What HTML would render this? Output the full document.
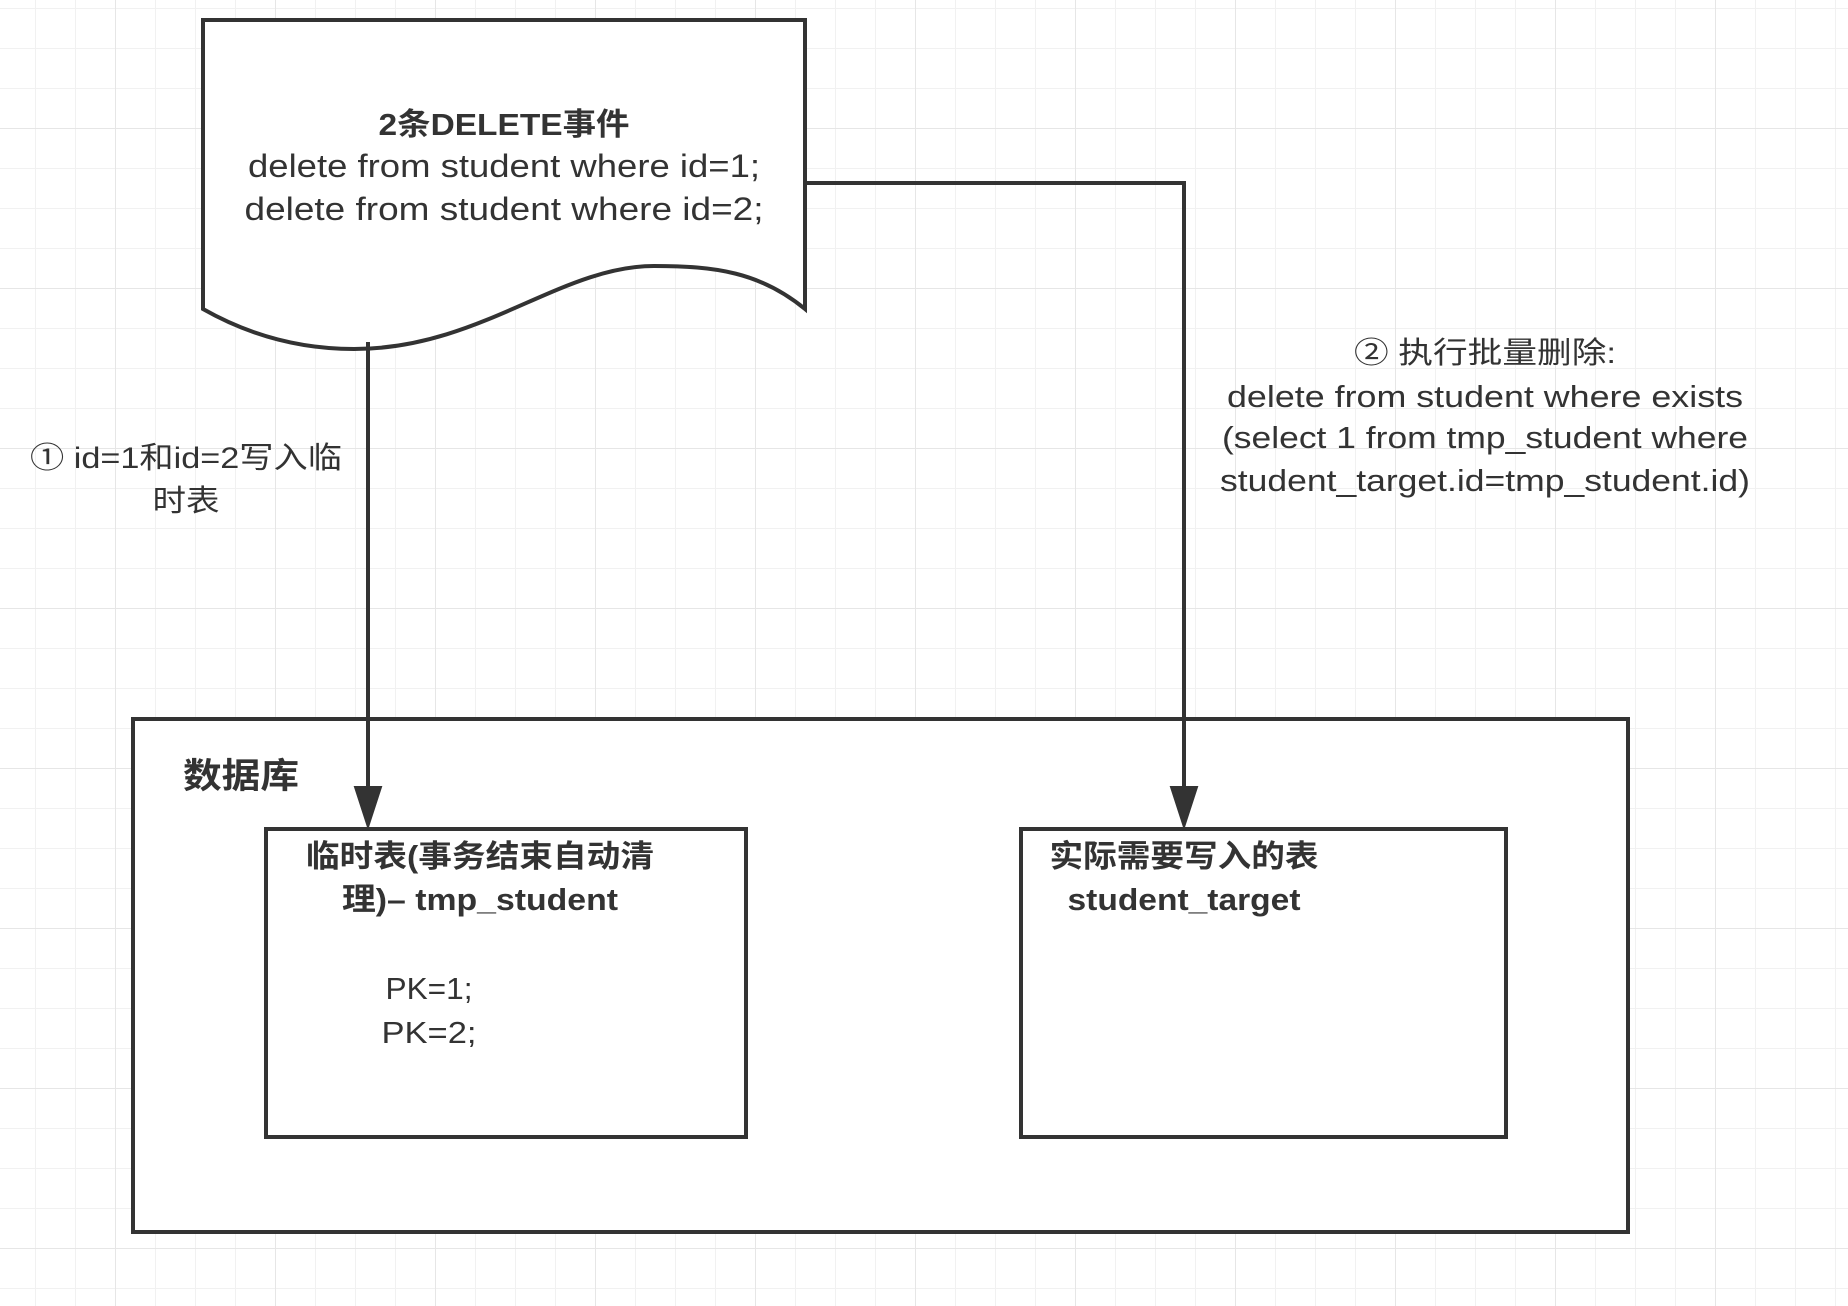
<!DOCTYPE html>
<html><head><meta charset="utf-8"><style>
html,body{margin:0;padding:0;background:#fff}
svg{display:block}
text{font-family:"Liberation Sans","Noto Sans CJK SC",sans-serif;fill:#333}
</style></head><body>
<svg width="1848" height="1306" viewBox="0 0 1848 1306" xmlns="http://www.w3.org/2000/svg">
<defs>
<pattern id="g" x="35" y="8" width="40" height="40" patternUnits="userSpaceOnUse">
<path d="M0 0H40M0 0V40" stroke="#f1f1f1" stroke-width="2" fill="none"/>
</pattern>
<pattern id="G" x="115" y="128" width="160" height="160" patternUnits="userSpaceOnUse">
<path d="M0 0H160M0 0V160" stroke="#e6e6e6" stroke-width="2" fill="none"/>
</pattern>
</defs>
<rect width="1848" height="1306" fill="#fff"/>
<rect width="1848" height="1306" fill="url(#g)"/>
<rect width="1848" height="1306" fill="url(#G)"/>

<path d="M203 20H805V309C760 272 715 266 654 266C560 266 480 349 354 349C290 349 240 330 203 309Z" fill="#fff" stroke="#333" stroke-width="4"/>
<text x="504" y="135" font-size="31" text-anchor="middle" font-weight="bold" textLength="251" lengthAdjust="spacingAndGlyphs">2条DELETE事件</text>
<text x="504" y="177" font-size="32" text-anchor="middle" textLength="512" lengthAdjust="spacingAndGlyphs">delete from student where id=1;</text>
<text x="504" y="220" font-size="32" text-anchor="middle" textLength="519" lengthAdjust="spacingAndGlyphs">delete from student where id=2;</text>

<rect x="133" y="719" width="1495" height="513" fill="#fff" stroke="#333" stroke-width="4"/>
<text x="183" y="788" font-size="35" font-weight="bold" textLength="116" lengthAdjust="spacingAndGlyphs">数据库</text>

<rect x="266" y="829" width="480" height="308" fill="#fff" stroke="#333" stroke-width="4"/>
<text x="480" y="867" font-size="31" text-anchor="middle" font-weight="bold" textLength="348" lengthAdjust="spacingAndGlyphs">临时表(事务结束自动清</text>
<text x="480" y="910" font-size="31" text-anchor="middle" font-weight="bold" textLength="276" lengthAdjust="spacingAndGlyphs">理)– tmp_student</text>
<text x="429" y="999" font-size="31" text-anchor="middle" textLength="87" lengthAdjust="spacingAndGlyphs">PK=1;</text>
<text x="429" y="1043" font-size="31" text-anchor="middle" textLength="95" lengthAdjust="spacingAndGlyphs">PK=2;</text>

<rect x="1021" y="829" width="485" height="308" fill="#fff" stroke="#333" stroke-width="4"/>
<text x="1184" y="867" font-size="31" text-anchor="middle" font-weight="bold" textLength="269" lengthAdjust="spacingAndGlyphs">实际需要写入的表</text>
<text x="1184" y="910" font-size="31" text-anchor="middle" font-weight="bold" textLength="233" lengthAdjust="spacingAndGlyphs">student_target</text>

<path d="M368 342V800" stroke="#333" stroke-width="4" fill="none"/>
<path d="M355 787L368 827L381 787Z" fill="#333" stroke="#333" stroke-width="2"/>
<path d="M805 183H1184V800" stroke="#333" stroke-width="4" fill="none"/>
<path d="M1171 787L1184 827L1197 787Z" fill="#333" stroke="#333" stroke-width="2"/>

<text x="186" y="468" font-size="30" text-anchor="middle" textLength="312" lengthAdjust="spacingAndGlyphs">① id=1和id=2写入临</text>
<text x="186" y="511" font-size="30" text-anchor="middle" textLength="67" lengthAdjust="spacingAndGlyphs">时表</text>
<text x="1485" y="363" font-size="30" text-anchor="middle" textLength="262" lengthAdjust="spacingAndGlyphs">② 执行批量删除:</text>
<text x="1485" y="407" font-size="31" text-anchor="middle" textLength="516" lengthAdjust="spacingAndGlyphs">delete from student where exists</text>
<text x="1485" y="448" font-size="31" text-anchor="middle" textLength="526" lengthAdjust="spacingAndGlyphs">(select 1 from tmp_student where</text>
<text x="1485" y="491" font-size="31" text-anchor="middle" textLength="530" lengthAdjust="spacingAndGlyphs">student_target.id=tmp_student.id)</text>
</svg>
</body></html>
